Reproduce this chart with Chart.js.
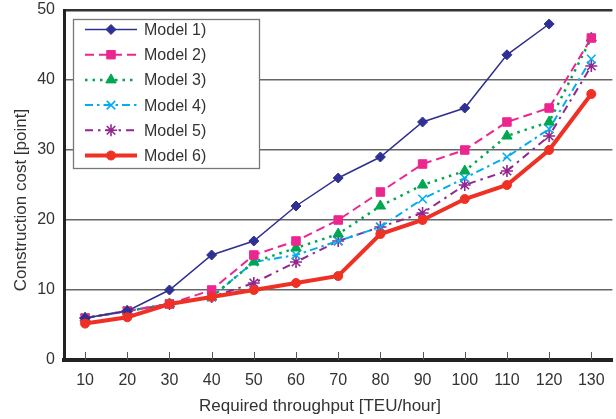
<!DOCTYPE html>
<html>
<head>
<meta charset="utf-8">
<script src="https://cdn.jsdelivr.net/npm/chart.js@4.4.1/dist/chart.umd.min.js"></script>
<style>
html,body{margin:0;padding:0;background:#fff;overflow:hidden;}
#wrap{width:620px;height:419px;}
</style>
</head>
<body>
<div id="wrap"><canvas id="c" width="620" height="419"></canvas></div>
<script>
const categories = ['10','20','30','40','50','60','70','80','90','100','110','120','130'];
const model1 = [6, 7, 10, 15, 17, 22, 26, 29, 34, 36, 43.6, 48, null];
const model2 = [6, 7, 8, 10, 15, 17, 20, 24, 28, 30, 34, 36, 46];
const model3 = [6, 7, 8, 9, 14, 16, 18, 22, 25, 27, 32, 34, 46];
const model4 = [6, 7, 8, 9, 14, 15, 17, 19, 23, 26, 29, 33, 43];
const model5 = [6, 7, 8, 9, 11, 14, 17, 19, 21, 25, 27, 32, 42];
const model6 = [5.2, 6.1, 8, 9, 10, 11, 12, 18, 20, 23, 25, 30, 38];
const seriesNames = ['Model 1)','Model 2)','Model 3)','Model 4)','Model 5)','Model 6)'];
const yTicks = [0, 10, 20, 30, 40, 50];
const xTitle = 'Required throughput [TEU/hour]';
const yTitle = 'Construction cost [point]';

const FONT = '"Liberation Sans", Arial, Helvetica, sans-serif';
Chart.defaults.font.family = FONT;

const styles = [
  {color:'#2E3192', width:1.5, dash:[], point:'rectRot', r:5, pbw:1, order:1},
  {color:'#EC268F', width:2, dash:[9,5], point:'rect', r:6, pbw:1, order:2},
  {color:'#00A651', width:2.5, dash:[2.5,5], point:'triangle', r:6, pbw:1, order:3},
  {color:'#00AEEF', width:2, dash:[8,4,2.5,4], point:'crossRot', r:6, pbw:1.6, order:4},
  {color:'#92278F', width:2, dash:[8,5,2.5,5], point:'star', r:6, pbw:1.6, order:5},
  {color:'#EE3124', width:4, dash:[], point:'circle', r:4.5, pbw:1, order:0}
];
const seriesData = [model1, model2, model3, model4, model5, model6];

const datasets = seriesData.map((d, i) => ({
  label: seriesNames[i],
  data: d,
  borderColor: styles[i].color,
  backgroundColor: styles[i].color,
  borderWidth: styles[i].width,
  borderDash: styles[i].dash,
  pointStyle: styles[i].point,
  pointRadius: styles[i].r,
  pointHoverRadius: styles[i].r,
  pointBorderWidth: styles[i].pbw,
  pointBackgroundColor: styles[i].color,
  pointBorderColor: styles[i].color,
  tension: 0,
  fill: false,
  order: styles[i].order
}));

const innerTicks = {
  id: 'innerTicks',
  beforeDatasetsDraw(chart) {
    const x = chart.scales.x, ca = chart.chartArea, ctx = chart.ctx;
    ctx.save();
    ctx.strokeStyle = '#555';
    ctx.lineWidth = 1;
    for (let i = 0; i < categories.length; i++) {
      const px = Math.round(x.getPixelForTick(i)) + 0.5;
      ctx.beginPath();
      ctx.moveTo(px, ca.bottom - 8);
      ctx.lineTo(px, ca.bottom);
      ctx.stroke();
    }
    ctx.restore();
  }
};

const legendBox = {
  id: 'legendBox',
  afterDraw(chart) {
    const ctx = chart.ctx, ca = chart.chartArea;
    const bx = ca.left + 9, by = ca.top + 9, bw = 186, bh = 149;
    ctx.save();
    ctx.fillStyle = '#fff';
    ctx.fillRect(bx, by, bw, bh);
    ctx.strokeStyle = '#777';
    ctx.lineWidth = 1.3;
    ctx.strokeRect(bx + 0.5, by + 0.5, bw, bh);
    chart.data.datasets.forEach((ds, i) => {
      const y = by + 10.5 + i * 25.2;
      ctx.save();
      ctx.strokeStyle = ds.borderColor;
      ctx.lineWidth = ds.borderWidth;
      ctx.setLineDash(ds.borderDash);
      ctx.beginPath();
      ctx.moveTo(bx + 12, y);
      ctx.lineTo(bx + 64, y);
      ctx.stroke();
      ctx.setLineDash([]);
      ctx.fillStyle = ds.pointBackgroundColor;
      ctx.strokeStyle = ds.pointBorderColor;
      ctx.lineWidth = ds.pointBorderWidth;
      Chart.helpers.drawPoint(ctx, {pointStyle: ds.pointStyle, radius: ds.pointRadius, rotation: 0, borderWidth: ds.pointBorderWidth}, bx + 38, y);
      ctx.restore();
      ctx.fillStyle = '#333';
      ctx.font = '16px ' + FONT;
      ctx.textAlign = 'left';
      ctx.textBaseline = 'middle';
      ctx.fillText(ds.label, bx + 71, y + 1);
    });
    ctx.restore();
  }
};

const axisTitles = {
  id: 'axisTitles',
  afterDraw(chart) {
    const ctx = chart.ctx;
    ctx.save();
    ctx.fillStyle = '#333';
    ctx.font = '17px ' + FONT;
    ctx.textAlign = 'center';
    ctx.textBaseline = 'middle';
    ctx.fillText(xTitle, 320, 406);
    ctx.translate(21, 200);
    ctx.rotate(-Math.PI / 2);
    ctx.fillText(yTitle, 0, 0);
    ctx.restore();
  }
};

new Chart(document.getElementById('c'), {
  type: 'line',
  data: { labels: categories, datasets },
  options: {
    responsive: false,
    devicePixelRatio: 1,
    animation: false,
    layout: { padding: { top: 10, right: 2, left: 0, bottom: 0 } },
    plugins: { legend: { display: false }, tooltip: { enabled: false } },
    scales: {
      x: {
        type: 'category',
        offset: true,
        grid: { display: true, drawOnChartArea: false, drawTicks: false },
        border: { display: true, color: '#222', width: 4 },
        ticks: { font: { size: 16 }, color: '#333', padding: 11, maxRotation: 0, autoSkip: false },
        afterFit(s) { s.height = 59; s.paddingLeft = 0; s.paddingRight = 0; }
      },
      y: {
        min: 0, max: 50,
        afterBuildTicks(s) { s.ticks = yTicks.map(v => ({ value: v })); },
        grid: {
          drawTicks: false,
          color: (c) => c.tick && c.tick.value === 50 ? '#333' : (c.tick && c.tick.value === 0 ? 'rgba(0,0,0,0)' : '#666'),
          lineWidth: (c) => c.tick && c.tick.value === 50 ? 2.5 : 1.4
        },
        border: { display: true, color: '#222', width: 3 },
        ticks: { font: { size: 16 }, color: '#333', padding: 9 },
        afterFit(s) { s.width = 64; s.paddingTop = 0; s.paddingBottom = 0; }
      }
    }
  },
  plugins: [innerTicks, legendBox, axisTitles]
});
</script>
</body>
</html>
